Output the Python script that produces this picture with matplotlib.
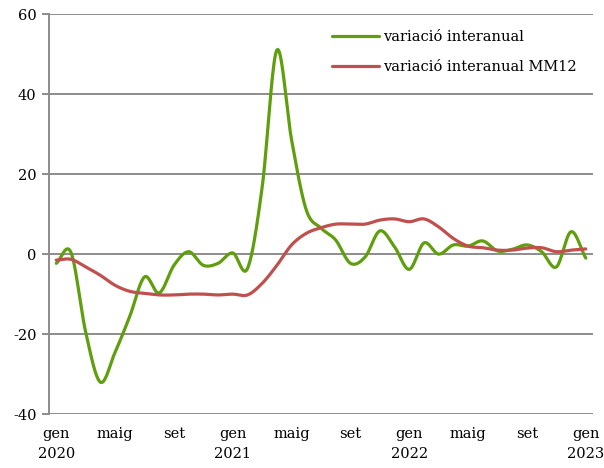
import numpy as np
import matplotlib
matplotlib.use("Agg")
import matplotlib.pyplot as plt

# Monthly data, gen 2020 .. gen 2023
months = list(range(37))
interanual = [-2.3, 0.4, -19.5, -32.0, -24.5, -15.5, -5.7, -9.7, -2.8, 0.6, -2.8, -2.3,
              0.3, -3.6, 16.8, 51.0, 28.5, 11.0, 6.5, 3.5, -2.3, -0.7, 5.8, 1.8,
              -3.8, 2.8, 0.0, 2.3, 2.0, 3.3, 0.8, 1.2, 2.3, 0.6, -3.2, 5.6, -1.0]
interanual_mm12 = [-1.5, -1.3, -3.2, -5.3, -7.8, -9.3, -9.8, -10.2, -10.2, -10.0, -10.0, -10.2,
                   -10.0, -10.2, -7.3, -2.8, 2.3, 5.2, 6.6, 7.5, 7.5, 7.5, 8.5, 8.8,
                   8.1, 8.8, 6.8, 3.9, 2.0, 1.6, 1.0, 1.0, 1.5, 1.6, 0.6, 1.0, 1.3]
tick_pos = [0, 4, 8, 12, 16, 20, 24, 28, 32, 36]
tick_labels = ["gen\n2020", "maig", "set", "gen\n2021", "maig", "set",
               "gen\n2022", "maig", "set", "gen\n2023"]
series_names = ["variació interanual", "variació interanual MM12"]
yticks = [-40, -20, 0, 20, 40, 60]


def smooth(x, y, n=20):
    # Catmull-Rom style smoothing (like Excel's smoothed lines)
    x = np.asarray(x, float)
    y = np.asarray(y, float)
    px = np.concatenate([[2 * x[0] - x[1]], x, [2 * x[-1] - x[-2]]])
    py = np.concatenate([[2 * y[0] - y[1]], y, [2 * y[-1] - y[-2]]])
    xs, ys = [], []
    t = np.linspace(0, 1, n, endpoint=False)
    for i in range(1, len(px) - 2):
        p0, p1, p2, p3 = py[i - 1], py[i], py[i + 1], py[i + 2]
        q0, q1, q2, q3 = px[i - 1], px[i], px[i + 1], px[i + 2]
        def cr(a0, a1, a2, a3):
            return 0.5 * ((2 * a1) + (-a0 + a2) * t + (2 * a0 - 5 * a1 + 4 * a2 - a3) * t ** 2
                          + (-a0 + 3 * a1 - 3 * a2 + a3) * t ** 3)
        xs.append(cr(q0, q1, q2, q3))
        ys.append(cr(p0, p1, p2, p3))
    xs.append([x[-1]])
    ys.append([y[-1]])
    return np.concatenate(xs), np.concatenate(ys)


plt.rcParams['font.family'] = ['DejaVu Serif']
fig = plt.figure(figsize=(6.04, 4.68), dpi=100)
ax = fig.add_axes([0.081, 0.115, 0.901, 0.855])

grid_c = '#8c8c8c'
for yv in yticks:
    ax.axhline(yv, color=grid_c, lw=1.4, zorder=1)

sx, sy = smooth(months, interanual)
ax.plot(sx, sy, color='#5f9e0c', lw=2.3, label=series_names[0], zorder=3,
        solid_capstyle='round')
sx, sy = smooth(months, interanual_mm12)
ax.plot(sx, sy, color='#c0504d', lw=2.3, label=series_names[1], zorder=3,
        solid_capstyle='round')

ax.set_xlim(-0.5, 36.5)
ax.set_ylim(-40, 60)
ax.set_yticks(yticks)
ax.set_yticklabels([str(v) for v in yticks], fontsize=10.5)
ax.set_xticks(tick_pos)
ax.set_xticklabels(tick_labels, fontsize=10.5, linespacing=1.6)
ax.tick_params(axis='x', length=0, pad=9)
ax.tick_params(axis='y', length=5, width=1.4, color=grid_c, pad=4)

for s in ['top', 'right', 'bottom']:
    ax.spines[s].set_visible(False)
ax.spines['left'].set_color(grid_c)
ax.spines['left'].set_linewidth(1.4)

leg = ax.legend(loc='upper right', bbox_to_anchor=(1.0, 1.0), frameon=False,
                fontsize=10.5, handlelength=3.2, handletextpad=0.3,
                labelspacing=1.1, borderaxespad=0.7)

fig.savefig('out.png', dpi=100)
